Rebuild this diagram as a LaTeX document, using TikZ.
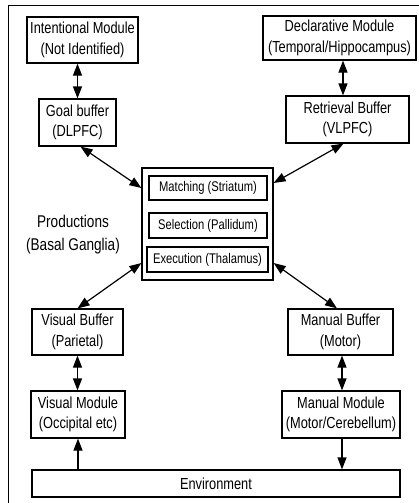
\documentclass[tikz,border=0pt]{standalone}
\usepackage{fontspec}
\setmainfont{Liberation Sans}[FakeStretch=0.8]
\usetikzlibrary{arrows.meta}
\begin{document}
\begin{tikzpicture}[x=1pt,y=-1pt,
  box/.style={draw, line width=1.2pt, align=center, inner sep=0pt,
    font=\fontsize{16}{20.5}\selectfont},
  stage/.style={box, font=\fontsize{14}{16}\selectfont},
  link/.style={line width=1.2pt, {Triangle[length=12pt,width=9pt]}-{Triangle[length=12pt,width=9pt]}},
  oneway/.style={line width=1.2pt, -{Triangle[length=12pt,width=9pt]}}]
\useasboundingbox (0,0) rectangle (419,503);
% frame along the left and top edges
\draw[line width=0.9pt] (8.5,503) -- (8.5,5.5) -- (419,5.5);

% modules and buffers
\node[box, minimum width=111pt, minimum height=46pt] (intent) at (82.5,40) {Intentional Module\\(Not Identified)};
\node[box, minimum width=77pt, minimum height=47pt] (goal) at (77.5,122.5) {Goal buffer\\(DLPFC)};
\node[box, minimum width=153pt, minimum height=44pt] (decl) at (339.5,38) {Declarative Module\\(Temporal/Hippocampus)};
\node[box, minimum width=123pt, minimum height=47pt] (retr) at (347.5,119.5) {Retrieval Buffer\\(VLPFC)};
\node[box, minimum width=91pt, minimum height=46pt] (visbuf) at (77.5,332) {Visual Buffer\\(Parietal)};
\node[box, minimum width=105pt, minimum height=46pt] (manbuf) at (340.5,332) {Manual Buffer\\(Motor)};
\node[box, minimum width=94pt, minimum height=47pt] (vismod) at (78,414.5) {Visual Module\\(Occipital etc)};
\node[box, minimum width=118pt, minimum height=47pt] (manmod) at (341,414.5) {Manual Module\\(Motor/Cerebellum)};
\node[box, minimum width=368pt, minimum height=27pt] (env) at (216,483.5) {Environment};

% production system with its three stages
\node[box, minimum width=131pt, minimum height=112pt] (prod) at (207.5,224) {};
\node[stage, minimum width=118pt, minimum height=24pt] (match) at (208,188) {Matching (Striatum)};
\node[stage, minimum width=118pt, minimum height=25pt] (sel) at (208,225.5) {Selection (Pallidum)};
\node[stage, minimum width=121pt, minimum height=25pt] (exec) at (207.5,259.5) {Execution (Thalamus)};
\node[align=center, font=\fontsize{17}{23}\selectfont] (prodlabel) at (73,235) {Productions\\(Basal Ganglia)};

% connectors
\draw[link] (intent.south -| goal.north) -- (goal.north);
\draw[link] ([xshift=3.5pt]decl.south) -- ([xshift=-4.5pt]retr.north);
\draw[link] ([xshift=3pt]goal.south) -- (prod.west |- match.west);
\draw[link] ([xshift=-4pt]retr.south) -- ([yshift=5pt]prod.east |- match.east);
\draw[link] ([yshift=-3.5pt]prod.west |- exec.west) -- (visbuf.north);
\draw[link] ([yshift=-3.5pt]prod.east |- exec.east) -- ([xshift=-3.5pt]manbuf.north);
\draw[link] (visbuf.south) -- (visbuf.south |- vismod.north);
\draw[link] ([xshift=1.5pt]manbuf.south) -- ([xshift=1.5pt]manbuf.south |- manmod.north);
\draw[oneway] (env.north -| vismod.south) -- (vismod.south);
\draw[oneway] ([xshift=1pt]manmod.south) -- ([xshift=1pt]manmod.south |- env.north);
\end{tikzpicture}
\end{document}
